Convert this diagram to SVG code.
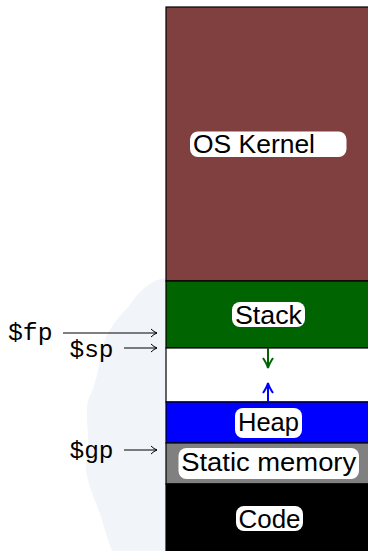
<svg xmlns="http://www.w3.org/2000/svg" width="368" height="551" viewBox="0 0 368 551">
<style>
.seg{stroke:#000;stroke-width:1.2}
.lbl{font-family:"Liberation Sans","DejaVu Sans",sans-serif;font-size:25.5px;fill:#000}
.box{fill:#fff}
.reg{font-family:"Liberation Mono","DejaVu Sans Mono",monospace;font-size:24px;fill:#000}
.ptr{stroke:#000;stroke-width:1;fill:none}
</style>
<defs>
<marker id="open" viewBox="0 0 10 10" refX="9" refY="5" markerWidth="10" markerHeight="10" markerUnits="userSpaceOnUse" orient="auto">
<path d="M3,1 Q6,4 9,5 Q6,6 3,9" fill="none" stroke="#000" stroke-width="1"/>
</marker>
<marker id="gArr" viewBox="0 0 12 12" refX="11" refY="6" markerWidth="12" markerHeight="12" markerUnits="userSpaceOnUse" orient="auto">
<path d="M1,1 Q7,5 11,6 Q7,7 1,11" fill="none" stroke="#006400" stroke-width="2"/>
</marker>
<marker id="bArr" viewBox="0 0 12 12" refX="11" refY="6" markerWidth="12" markerHeight="12" markerUnits="userSpaceOnUse" orient="auto">
<path d="M1,1 Q7,5 11,6 Q7,7 1,11" fill="none" stroke="#0000ff" stroke-width="2"/>
</marker>
</defs>
<rect width="368" height="551" fill="#fff"/>
<path id="watermark" d="M166,278 C150,280 140,290 130,305 C118,318 106,330 102,350 C98,370 96,385 88,400 C84,420 92,440 86,460 C84,480 96,500 102,520 C106,535 110,545 112,551 L166,551 Z" fill="#f1f4f9"/>
<g id="kernel">
<rect x="166" y="7" width="210" height="274" fill="#804040" class="seg"/>
<rect x="190" y="131.5" width="156.5" height="25.5" rx="8" class="box"/>
<text x="193" y="153" class="lbl" textLength="122" lengthAdjust="spacingAndGlyphs">OS Kernel</text>
</g>
<g id="stack">
<rect x="166" y="281" width="210" height="67" fill="#006400" class="seg"/>
<rect x="232" y="302" width="73" height="25" rx="8" class="box"/>
<text x="268.5" y="324" class="lbl" text-anchor="middle" textLength="67" lengthAdjust="spacingAndGlyphs">Stack</text>
</g>
<g id="free">
<rect x="166" y="348" width="210" height="54" fill="#fff" class="seg"/>
</g>
<g id="heap">
<rect x="166" y="402" width="210" height="41" fill="#0000ff" class="seg"/>
<rect x="235" y="408" width="67" height="30" rx="8" class="box"/>
<text x="268.5" y="431" class="lbl" text-anchor="middle" textLength="61" lengthAdjust="spacingAndGlyphs">Heap</text>
</g>
<g id="static">
<rect x="166" y="443" width="210" height="41" fill="#808080" class="seg"/>
<rect x="178.5" y="448" width="180.5" height="31" rx="8" class="box"/>
<text x="268.7" y="471" class="lbl" text-anchor="middle" textLength="175" lengthAdjust="spacingAndGlyphs">Static memory</text>
</g>
<g id="code">
<rect x="166" y="484" width="210" height="70" fill="#000" class="seg"/>
<rect x="236" y="506" width="67" height="25" rx="8" class="box"/>
<text x="269.5" y="528" class="lbl" text-anchor="middle" textLength="62" lengthAdjust="spacingAndGlyphs">Code</text>
</g>
<g id="fp"><text x="8" y="340" class="reg" textLength="44.5" lengthAdjust="spacingAndGlyphs">$fp</text></g>
<g id="sp"><text x="69.5" y="356.5" class="reg" textLength="44" lengthAdjust="spacingAndGlyphs">$sp</text></g>
<g id="gp"><text x="69.5" y="457.5" class="reg" textLength="44" lengthAdjust="spacingAndGlyphs">$gp</text></g>
<g id="connectors">
<line x1="63" y1="333" x2="157" y2="333" class="ptr" marker-end="url(#open)"/>
<line x1="124" y1="348" x2="157" y2="348" class="ptr" marker-end="url(#open)"/>
<line x1="124" y1="450" x2="157" y2="450" class="ptr" marker-end="url(#open)"/>
<line x1="268" y1="348" x2="268" y2="368" stroke="#006400" stroke-width="2" marker-end="url(#gArr)"/>
<line x1="268" y1="402" x2="268" y2="383" stroke="#0000ff" stroke-width="2" marker-end="url(#bArr)"/>
</g>
</svg>
